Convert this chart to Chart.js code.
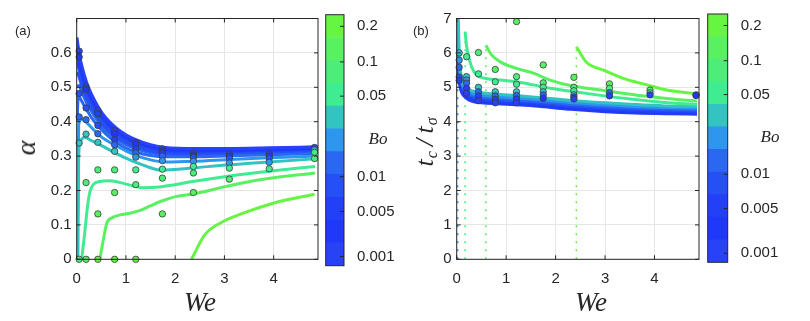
<!DOCTYPE html>
<html>
<head>
<meta charset="utf-8">
<title>alpha and tc/tsigma against We</title>
<script src="https://cdn.jsdelivr.net/npm/chart.js@4.4.1/dist/chart.umd.min.js"></script>
<style>
  body { margin: 0; background: #fff; }
  #fig { position: relative; width: 810px; height: 321px; overflow: hidden;
         font-family: "Liberation Sans", Arial, sans-serif; color: #262626; }
  #fig canvas { position: absolute; top: 0; }
  .lbl { position: absolute; white-space: nowrap; line-height: 1; }
  .math { font-family: "Liberation Serif", "DejaVu Serif", serif; font-style: italic; }
  .math sub { font-size: 16px; vertical-align: -0.25em; line-height: 0; margin-left: 1px; }
  .rot { transform: translate(-50%, -50%) rotate(-90deg); }
  .ctr { transform: translate(-50%, -50%); }
</style>
</head>
<body>
<div id="fig">
  <canvas id="panelA" width="322" height="321" style="left:0"></canvas>
  <canvas id="barA" width="110" height="321" style="left:300px"></canvas>
  <canvas id="panelB" width="303" height="321" style="left:400px"></canvas>
  <canvas id="barB" width="120" height="321" style="left:690px"></canvas>

  <div class="lbl" style="left:15px;top:24px;font-size:13px">(a)</div>
  <div class="lbl" style="left:413px;top:24px;font-size:13px">(b)</div>
  <div class="lbl math rot" style="left:26px;top:148px;font-size:28px">&alpha;</div>
  <div class="lbl math rot" style="left:425px;top:142px;font-size:26px">t<sub>c</sub>&thinsp;/&thinsp;t<sub>&sigma;</sub></div>
  <div class="lbl math ctr" style="left:200px;top:302px;font-size:27px">We</div>
  <div class="lbl math ctr" style="left:591px;top:302px;font-size:27px">We</div>
  <div class="lbl math ctr" style="left:378px;top:138px;font-size:17px">Bo</div>
  <div class="lbl math ctr" style="left:770px;top:136px;font-size:17px">Bo</div>
</div>
<script>
// colour bands of the Bo colorbar, bottom (small Bo) to top (large Bo)
const BAND_COLORS = ['#2843f7', '#2038f9', '#2240f8', '#2550f5', '#2a68f2', '#2d96ee',
                     '#33c3c0', '#3fec92', '#4cee78', '#58f260', '#66f540'];
const BO_TICK_LABELS = ['0.001', '0.005', '0.01', '0.05', '0.1', '0.2'];
const BO_TICK_POS = [0.4, 2.38, 3.9, 7.43, 8.93, 10.49];

const X_TICKS = [0, 1, 2, 3, 4];
const Y_TICKS_A = [0, 0.1, 0.2, 0.3, 0.4, 0.5, 0.6];
const Y_TICKS_B = [0, 1, 2, 3, 4, 5, 6, 7];

// ---- panel (a): alpha vs We ----
const WE_A = [0.005, 0.05, 0.1, 0.2, 0.3, 0.45, 0.6, 0.8, 1.0, 1.2, 1.5, 1.8, 2.4, 3.1, 3.9, 4.85];
const ALPHA_A_1 = [0.645, 0.600, 0.565, 0.515, 0.480, 0.440, 0.410, 0.382, 0.362, 0.348, 0.333, 0.325, 0.322, 0.322, 0.324, 0.327];
const ALPHA_A_2 = [0.625, 0.585, 0.552, 0.505, 0.472, 0.433, 0.404, 0.376, 0.357, 0.343, 0.329, 0.321, 0.318, 0.318, 0.320, 0.323];
const ALPHA_A_3 = [0.600, 0.568, 0.538, 0.494, 0.463, 0.425, 0.397, 0.370, 0.351, 0.338, 0.325, 0.317, 0.314, 0.315, 0.317, 0.320];
const ALPHA_A_4 = [0.575, 0.550, 0.522, 0.482, 0.453, 0.417, 0.390, 0.364, 0.346, 0.333, 0.320, 0.313, 0.311, 0.312, 0.314, 0.317];
const ALPHA_A_5 = [0.545, 0.530, 0.505, 0.469, 0.442, 0.408, 0.382, 0.357, 0.340, 0.327, 0.315, 0.309, 0.307, 0.308, 0.311, 0.314];
const ALPHA_A_6 = [0.500, 0.505, 0.487, 0.455, 0.430, 0.398, 0.373, 0.350, 0.333, 0.321, 0.310, 0.304, 0.303, 0.305, 0.308, 0.311];

const WE_A_7 = [0.01, 0.03, 0.05, 0.1, 0.2, 0.3, 0.45, 0.6, 0.8, 1.0, 1.2, 1.5, 1.8, 2.4, 3.1, 3.9, 4.85];
const ALPHA_A_7 = [0.40, 0.47, 0.472, 0.46, 0.435, 0.412, 0.385, 0.363, 0.340, 0.323, 0.312, 0.302, 0.298, 0.298, 0.301, 0.304, 0.307];

const WE_A_8 = [0.02, 0.04, 0.07, 0.1, 0.2, 0.3, 0.45, 0.6, 0.8, 1.0, 1.2, 1.5, 1.8, 2.4, 3.1, 3.9, 4.85];
const ALPHA_A_8 = [0.12, 0.39, 0.405, 0.408, 0.398, 0.383, 0.362, 0.346, 0.330, 0.315, 0.302, 0.289, 0.283, 0.285, 0.290, 0.295, 0.300];

const WE_A_9 = [0.025, 0.04, 0.08, 0.15, 0.2, 0.3, 0.45, 0.6, 0.8, 1.0, 1.2, 1.5, 1.7, 2.0, 2.4, 3.1, 3.9, 4.85];
const ALPHA_A_9 = [0.0, 0.30, 0.345, 0.355, 0.353, 0.345, 0.335, 0.323, 0.308, 0.294, 0.282, 0.266, 0.259, 0.261, 0.266, 0.275, 0.283, 0.292];

const WE_A_10 = [0.1, 0.15, 0.19, 0.23, 0.27, 0.34, 0.47, 0.67, 0.97, 1.34, 1.68, 2.0, 2.36, 3.04, 3.72, 4.84];
const ALPHA_A_10 = [0.0, 0.06, 0.115, 0.165, 0.197, 0.218, 0.226, 0.228, 0.220, 0.208, 0.210, 0.217, 0.226, 0.241, 0.253, 0.270];

const WE_A_11 = [0.47, 0.54, 0.61, 0.71, 0.88, 1.08, 1.29, 1.49, 1.7, 2.03, 2.37, 3.04, 3.72, 4.84];
const ALPHA_A_11 = [0.0, 0.056, 0.105, 0.12, 0.129, 0.134, 0.142, 0.155, 0.168, 0.183, 0.190, 0.212, 0.231, 0.251];

const WE_A_12 = [2.33, 2.6, 2.91, 3.38, 3.99, 4.83];
const ALPHA_A_12 = [0.0, 0.071, 0.105, 0.134, 0.163, 0.189];

const PTS_A_WE = [
  0.05, 0.05, 0.05, 0.05, 0.05, 0.05,
  0.19, 0.19, 0.19, 0.19, 0.19, 0.19, 0.19,
  0.43, 0.43, 0.43, 0.43, 0.43, 0.43, 0.43, 0.43,
  0.77, 0.77, 0.77, 0.77, 0.77, 0.77, 0.77, 0.77,
  1.2, 1.2, 1.2, 1.2, 1.2, 1.2, 1.2, 1.2,
  1.74, 1.74, 1.74, 1.74, 1.74, 1.74, 1.74, 1.74,
  2.37, 2.37, 2.37, 2.37, 2.37, 2.37, 2.37,
  3.1, 3.1, 3.1, 3.1, 3.1, 3.1,
  3.91, 3.91, 3.91, 3.91, 3.91,
  4.83, 4.83, 4.83, 4.83];
const PTS_A_ALPHA = [
  0.605, 0.588, 0.482, 0.414, 0.338, 0,
  0.501, 0.494, 0.44, 0.406, 0.364, 0.223, 0,
  0.432, 0.423, 0.389, 0.365, 0.34, 0.26, 0.132, 0,
  0.374, 0.365, 0.348, 0.333, 0.314, 0.26, 0.194, 0,
  0.34, 0.335, 0.321, 0.309, 0.297, 0.26, 0.217, 0,
  0.321, 0.315, 0.309, 0.30, 0.287, 0.262, 0.236, 0.132,
  0.309, 0.303, 0.297, 0.285, 0.27, 0.251, 0.194,
  0.306, 0.30, 0.294, 0.28, 0.265, 0.233,
  0.306, 0.30, 0.294, 0.282, 0.263,
  0.325, 0.318, 0.311, 0.293];
const PTS_A_BO = [
  0, 1, 3, 4, 6, 8,
  0, 1, 3, 4, 6, 8, 9,
  0, 2, 3, 4, 6, 8, 9, 10,
  0, 1, 2, 4, 6, 8, 9, 10,
  0, 1, 2, 4, 5, 7, 8, 10,
  0, 1, 2, 4, 5, 7, 8, 9,
  0, 1, 3, 5, 7, 8, 9,
  0, 2, 3, 5, 7, 8,
  0, 2, 3, 5, 7,
  0, 6, 7, 8];

// ---- panel (b): tc/tsigma vs We ----
const WE_B = [0.01, 0.05, 0.1, 0.2, 0.3, 0.5, 0.8, 1.2, 1.7, 2.3, 3.0, 3.6, 4.2, 4.86];
const T_B_1 = [5.8, 5.15, 4.85, 4.68, 4.60, 4.55, 4.52, 4.49, 4.44, 4.36, 4.29, 4.25, 4.23, 4.22];
const T_B_2 = [6.0, 5.25, 4.92, 4.73, 4.65, 4.59, 4.55, 4.52, 4.47, 4.39, 4.32, 4.28, 4.26, 4.25];
const T_B_3 = [6.3, 5.35, 4.98, 4.78, 4.69, 4.63, 4.59, 4.56, 4.51, 4.43, 4.36, 4.32, 4.29, 4.28];
const T_B_4 = [6.6, 5.45, 5.04, 4.83, 4.73, 4.67, 4.63, 4.60, 4.55, 4.47, 4.40, 4.36, 4.33, 4.31];
const T_B_5 = [7.0, 5.60, 5.10, 4.88, 4.78, 4.72, 4.68, 4.64, 4.59, 4.51, 4.44, 4.40, 4.37, 4.35];
const T_B_6 = [7.5, 5.75, 5.18, 4.93, 4.83, 4.77, 4.73, 4.69, 4.64, 4.56, 4.49, 4.44, 4.41, 4.39];
const T_B_7 = [8.5, 6.00, 5.30, 5.00, 4.90, 4.84, 4.80, 4.76, 4.70, 4.62, 4.55, 4.50, 4.46, 4.44];

const WE_B_8 = [0.17, 0.2, 0.235, 0.3, 0.4, 0.55, 0.88, 1.21, 1.55, 1.89, 2.23, 2.83, 3.5, 4.2, 4.86];
const T_B_8 = [6.62, 6.2, 5.94, 5.6, 5.36, 5.27, 5.21, 5.16, 5.07, 4.97, 4.90, 4.78, 4.66, 4.56, 4.50];

const WE_B_9 = [0.59, 0.7, 0.88, 1.21, 1.55, 1.89, 2.3, 3.0, 3.65, 4.3, 4.86];
const T_B_9 = [6.22, 5.95, 5.74, 5.55, 5.41, 5.21, 5.05, 4.90, 4.77, 4.67, 4.60];

const WE_B_10 = [2.42, 2.63, 2.97, 3.37, 3.85, 4.25, 4.86];
const T_B_10 = [6.18, 5.72, 5.50, 5.26, 5.07, 4.92, 4.81];

// critical We for each Bo (dotted verticals)
const WE_CRIT = [0.02, 0.17, 0.59, 2.42];
const T_CRIT = [7, 6.62, 6.22, 6.18];
const BO_CRIT = [5, 7, 9, 10];

const PTS_B_WE = [
  0.05, 0.05, 0.05, 0.05, 0.05,
  0.2, 0.2, 0.2, 0.2, 0.2, 0.2,
  0.44, 0.44, 0.44, 0.44, 0.44, 0.44,
  0.78, 0.78, 0.78, 0.78, 0.78, 0.78,
  1.21, 1.21, 1.21, 1.21, 1.21, 1.21, 1.21,
  1.75, 1.75, 1.75, 1.75, 1.75, 1.75,
  2.37, 2.37, 2.37, 2.37, 2.37, 2.37,
  3.09, 3.09, 3.09, 3.09,
  3.91, 3.91, 3.91,
  4.84, 4.84];
const PTS_B_T = [
  6.0, 5.79, 5.58, 5.3, 5.2,
  5.89, 5.31, 5.21, 5.12, 4.97, 4.83,
  6.01, 5.39, 5.0, 4.87, 4.75, 4.61,
  5.52, 5.16, 4.87, 4.75, 4.65, 4.55,
  6.91, 5.31, 5.09, 4.87, 4.76, 4.66, 4.55,
  5.65, 5.13, 5.0, 4.87, 4.78, 4.68,
  5.29, 5.0, 4.9, 4.78, 4.72, 4.66,
  5.1, 4.97, 4.84, 4.75,
  4.92, 4.84, 4.78,
  4.78, 4.76];
const PTS_B_BO = [
  6, 5, 4, 3, 2,
  7, 6, 5, 4, 2, 0,
  8, 7, 6, 4, 2, 0,
  9, 7, 6, 4, 2, 0,
  9, 8, 7, 6, 4, 2, 0,
  9, 8, 7, 6, 4, 1,
  9, 8, 7, 6, 2, 0,
  9, 8, 4, 0,
  9, 7, 0,
  0, 1];

const INK = '#262626';
const GRID = '#e6e6e6';
const TICK_FONT = { family: '"Liberation Sans", Arial, sans-serif', size: 15 };

const toXY = (xs, ys) => xs.map((x, i) => ({ x, y: ys[i] }));

const curve = (xs, ys, band, order) => ({
  data: toXY(xs, ys),
  showLine: true,
  pointRadius: 0,
  pointHoverRadius: 0,
  borderColor: BAND_COLORS[band],
  borderWidth: 3,
  cubicInterpolationMode: 'monotone',
  order: order
});

const dots = (xs, ys, bands) => ({
  data: toXY(xs, ys),
  showLine: false,
  pointRadius: 3.2,
  pointHoverRadius: 3.2,
  pointBackgroundColor: bands.map((b) => BAND_COLORS[b]),
  pointBorderColor: '#3a3a3a',
  pointBorderWidth: 0.8,
  clip: false,
  order: 0
});

const dotted = (we, top, band) => ({
  data: [{ x: we, y: 0 }, { x: we, y: top }],
  showLine: true,
  pointRadius: 0,
  borderColor: BAND_COLORS[band],
  borderWidth: 1.5,
  borderDash: [2, 6],
  order: 20
});

// axes box with inward ticks, as in the original figure
const frame = {
  id: 'frame',
  afterDatasetsDraw(chart, args, opts) {
    if (!opts.on) return;
    const { ctx, chartArea: a, scales } = chart;
    ctx.save();
    ctx.strokeStyle = INK;
    ctx.lineWidth = 1;
    ctx.strokeRect(a.left, a.top, a.right - a.left, a.bottom - a.top);
    ctx.beginPath();
    const len = opts.tick;
    if (scales.x && scales.x.options.display !== false) {
      scales.x.ticks.forEach((t) => {
        const p = scales.x.getPixelForValue(t.value);
        ctx.moveTo(p, a.bottom); ctx.lineTo(p, a.bottom - len);
        ctx.moveTo(p, a.top); ctx.lineTo(p, a.top + len);
      });
    }
    scales.y.ticks.forEach((t) => {
      const p = scales.y.getPixelForValue(t.value);
      if (!opts.barOnly) { ctx.moveTo(a.left, p); ctx.lineTo(a.left + len, p); }
      ctx.moveTo(a.right, p); ctx.lineTo(a.right - len, p);
    });
    ctx.stroke();
    ctx.restore();
  }
};

const fixTicks = (vals) => (scale) => { scale.ticks = vals.map((v) => ({ value: v })); };

function panel(id, datasets, o) {
  return new Chart(document.getElementById(id), {
    type: 'scatter',
    data: { datasets },
    plugins: [frame],
    options: {
      responsive: false,
      animation: false,
      events: [],
      layout: { padding: { top: o.top, right: o.right, bottom: 0, left: 0 } },
      plugins: { legend: { display: false }, tooltip: { enabled: false }, frame: { on: true, tick: 4 } },
      scales: {
        x: {
          type: 'linear', min: 0, max: o.xMax,
          afterBuildTicks: fixTicks(X_TICKS),
          afterFit: (s) => { s.height = o.xHeight; },
          grid: { color: GRID, drawTicks: false },
          border: { display: false },
          ticks: { color: INK, font: TICK_FONT, padding: 11, callback: (v) => String(v) }
        },
        y: {
          type: 'linear', min: 0, max: o.yMax,
          afterBuildTicks: fixTicks(o.yTicks),
          afterFit: (s) => { s.width = o.yWidth; },
          grid: { color: GRID, drawTicks: false },
          border: { display: false },
          ticks: { color: INK, font: TICK_FONT, padding: 5, callback: o.yFmt }
        }
      }
    }
  });
}

function colorbar(id, o) {
  return new Chart(document.getElementById(id), {
    type: 'bar',
    data: {
      labels: ['Bo'],
      datasets: BAND_COLORS.map((c) => ({ data: [1], backgroundColor: c, borderWidth: 0,
                                          barPercentage: 1, categoryPercentage: 1 }))
    },
    plugins: [frame],
    options: {
      responsive: false,
      animation: false,
      events: [],
      layout: { padding: o.padding },
      plugins: { legend: { display: false }, tooltip: { enabled: false },
                 frame: { on: true, tick: 4, barOnly: true } },
      scales: {
        x: { stacked: true, display: false },
        y: {
          stacked: true, position: 'right', min: 0, max: BAND_COLORS.length,
          afterBuildTicks: fixTicks(BO_TICK_POS),
          afterFit: (s) => { s.width = o.yWidth; },
          grid: { display: false },
          border: { display: false },
          ticks: { color: INK, font: TICK_FONT, padding: 5,
                   callback: (v, i) => BO_TICK_LABELS[i] }
        }
      }
    }
  });
}

panel('panelA', [
  dots(PTS_A_WE, PTS_A_ALPHA, PTS_A_BO),
  curve(WE_A, ALPHA_A_6, 4, 10),
  curve(WE_A, ALPHA_A_5, 3, 9),
  curve(WE_A, ALPHA_A_4, 3, 8),
  curve(WE_A, ALPHA_A_3, 2, 7),
  curve(WE_A, ALPHA_A_2, 1, 6),
  curve(WE_A, ALPHA_A_1, 0, 5),
  curve(WE_A_7, ALPHA_A_7, 4, 4),
  curve(WE_A_8, ALPHA_A_8, 5, 3),
  curve(WE_A_9, ALPHA_A_9, 6, 2),
  curve(WE_A_10, ALPHA_A_10, 7, 2),
  curve(WE_A_11, ALPHA_A_11, 9, 2),
  curve(WE_A_12, ALPHA_A_12, 10, 2)
], {
  top: 18.5, right: 3.7, xHeight: 61.7, yWidth: 76.7, xMax: 4.9, yMax: 0.7,
  yTicks: Y_TICKS_A, yFmt: (v) => (v === 0 ? '0' : v.toFixed(1))
});

panel('panelB', [
  dots(PTS_B_WE, PTS_B_T, PTS_B_BO),
  curve(WE_B, T_B_7, 6, 3),
  curve(WE_B, T_B_6, 5, 4),
  curve(WE_B, T_B_5, 4, 5),
  curve(WE_B, T_B_4, 3, 6),
  curve(WE_B, T_B_3, 2, 7),
  curve(WE_B, T_B_2, 1, 8),
  curve(WE_B, T_B_1, 0, 9),
  curve(WE_B_8, T_B_8, 7, 2),
  curve(WE_B_9, T_B_9, 9, 2),
  curve(WE_B_10, T_B_10, 10, 2),
  ...WE_CRIT.map((w, i) => dotted(w, T_CRIT[i], BO_CRIT[i]))
], {
  top: 18.5, right: 3.7, xHeight: 61.7, yWidth: 56.7, xMax: 4.9, yMax: 7,
  yTicks: Y_TICKS_B, yFmt: (v) => String(v)
});

colorbar('barA', { padding: { top: 14.7, right: 0, bottom: 55.3, left: 25.7 }, yWidth: 66 });
colorbar('barB', { padding: { top: 11, right: 0, bottom: 58.7, left: 17.7 }, yWidth: 82.3 });
</script>
</body>
</html>
